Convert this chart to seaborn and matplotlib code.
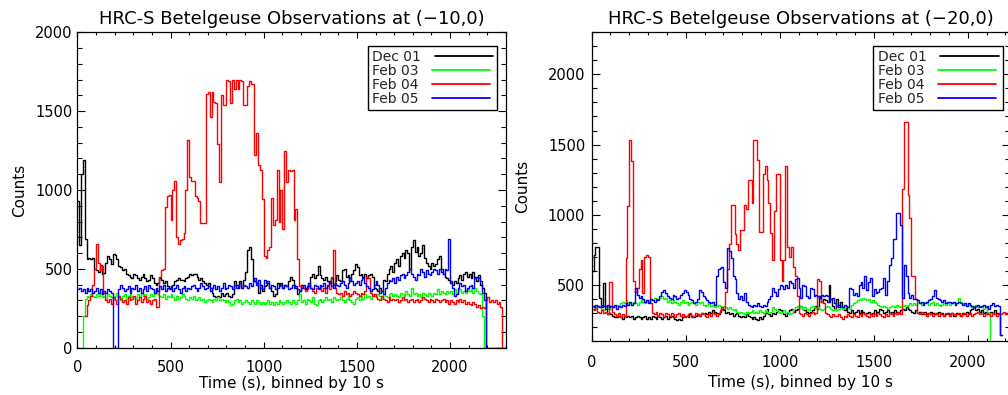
import matplotlib
matplotlib.use("Agg")
import matplotlib.pyplot as plt
from matplotlib.lines import Line2D
from matplotlib.ticker import MultipleLocator
import numpy as np
import pandas as pd
import seaborn as sns

sns.set_theme(style="ticks")
plt.rcParams["font.family"] = ["DejaVu Sans"]

BIN = 10  # seconds per bin

labels = ["Dec 01", "Feb 03", "Feb 04", "Feb 05"]
colors = ["#000000", "#00ff00", "#ff0000", "#0000ff"]

# ---- pointing (-10,0) ----
left_start = [0, 0, 40, 0]
left_dec01 = [
    930, 650, 1100, 1190, 690, 560, 570, 560, 570, 500,
    490, 480, 525, 470, 475, 540, 580, 560, 530, 595,
    590, 560, 520, 510, 490, 500, 470, 460, 450, 440,
    470, 460, 440, 430, 450, 470, 440, 420, 430, 460,
    440, 410, 400, 410, 440, 430, 410, 420, 390, 380,
    390, 400, 420, 430, 440, 430, 430, 420, 440, 450,
    470, 460, 470, 470, 450, 430, 440, 420, 410, 400,
    410, 380, 350, 330, 320, 330, 320, 350, 330, 340,
    350, 330, 320, 340, 420, 400, 380, 420, 380, 430,
    480, 620, 640, 560, 430, 420, 410, 350, 400, 360,
    390, 400, 410, 380, 360, 330, 340, 410, 400, 410,
    380, 400, 390, 420, 450, 430, 400, 380, 340, 360,
    400, 380, 380, 370, 390, 450, 470, 440, 460, 520,
    460, 440, 430, 450, 420, 410, 440, 400, 420, 460,
    430, 420, 490, 500, 450, 460, 420, 470, 490, 530,
    510, 460, 470, 450, 470, 440, 460, 470, 450, 380,
    370, 360, 380, 360, 430, 420, 470, 500, 520, 480,
    540, 560, 520, 580, 600, 570, 620, 600, 500, 640,
    680, 610, 640, 580, 600, 650, 570, 540, 520, 500,
    540, 520, 530, 560, 580, 500, 470, 450, 440, 430,
    410, 400, 420, 410, 440, 460, 430, 470, 480, 450,
    470, 440, 480, 450, 420, 460, 400, 380, 350, 0,
    0, 0, 0, 0, 0, 0, 0, 0, 0, 0,
]
left_feb03 = [
    0, 0, 0, 200, 310, 330, 320, 340, 330, 320,
    340, 330, 350, 320, 330, 310, 340, 330, 320, 310,
    330, 350, 320, 300, 330, 340, 310, 330, 340, 320,
    330, 310, 340, 320, 350, 330, 340, 310, 320, 340,
    330, 350, 360, 340, 330, 320, 340, 310, 330, 320,
    340, 320, 300, 330, 310, 320, 340, 330, 310, 300,
    320, 310, 330, 300, 310, 320, 300, 310, 290, 300,
    310, 300, 290, 310, 300, 320, 300, 310, 300, 290,
    300, 290, 270, 280, 300, 310, 290, 300, 280, 290,
    300, 290, 280, 300, 290, 280, 300, 290, 280, 290,
    280, 290, 300, 280, 290, 270, 290, 280, 300, 290,
    280, 290, 300, 290, 280, 300, 290, 280, 300, 340,
    290, 300, 280, 310, 300, 290, 320, 280, 270, 300,
    310, 290, 300, 320, 300, 310, 290, 320, 310, 300,
    310, 320, 300, 290, 310, 330, 300, 290, 280, 310,
    320, 300, 330, 310, 340, 320, 330, 310, 340, 330,
    320, 340, 330, 310, 340, 330, 320, 340, 350, 330,
    340, 330, 320, 350, 340, 330, 360, 340, 330, 380,
    340, 350, 330, 340, 320, 350, 340, 330, 350, 340,
    330, 350, 340, 370, 340, 360, 350, 340, 360, 350,
    360, 340, 370, 350, 360, 370, 350, 360, 350, 370,
    360, 370, 350, 380, 360, 350, 340, 200, 0, 0,
    0, 0, 0, 0, 0, 0, 0, 0, 0, 0,
]
left_feb04 = [
    200, 270, 300, 330, 400, 500,
    660, 540, 490, 520, 350, 300, 290, 310, 280, 320,
    300, 280, 330, 310, 290, 300, 280, 320, 300, 310,
    330, 280, 300, 320, 290, 310, 330, 290, 300, 280,
    300, 310, 260, 260, 450, 490, 500, 890, 960, 970,
    810, 1000, 1060, 700, 660, 680, 690, 730, 1000, 1320,
    1080, 1060, 1060, 960, 950, 930, 790, 790, 790, 1610,
    1620, 1460, 1620, 1560, 1550, 1290, 1050, 1600, 1540, 1540,
    1700, 1690, 1550, 1700, 1640, 1700, 1640, 1700, 1690, 1540,
    1540, 1660, 1690, 1670, 1670, 1220, 1360, 1160, 1130, 940,
    580, 570, 620, 640, 950, 780, 810, 1130, 800, 1000,
    750, 1250, 1050, 1130, 1120, 1130, 810, 880, 560, 390,
    390, 380, 360, 370, 400, 380, 360, 350, 380, 370,
    390, 360, 380, 350, 390, 370, 450, 620, 380, 350,
    340, 350, 330, 360, 340, 350, 330, 340, 360, 350,
    340, 330, 350, 340, 360, 450, 440, 350, 330, 340,
    320, 310, 300, 330, 310, 300, 290, 320, 300, 310,
    300, 310, 290, 300, 320, 300, 310, 290, 300, 310,
    290, 300, 310, 290, 300, 320, 310, 300, 290, 310,
    300, 290, 310, 300, 290, 300, 310, 290, 300, 280,
    300, 290, 280, 300, 290, 310, 290, 300, 280, 290,
    280, 270, 290, 280, 260, 270, 250, 260, 250, 300,
    320, 290, 300, 290, 300, 280, 290, 260, 0, 0,
]
left_feb05 = [
    370, 380, 360, 370, 350, 380, 360, 370, 350, 360,
    380, 350, 370, 340, 360, 350, 370, 360, 350, 0,
    0, 0, 370, 400, 380, 360, 370, 390, 350, 380,
    370, 400, 360, 380, 350, 370, 390, 360, 400, 380,
    370, 350, 380, 360, 390, 370, 400, 360, 380, 370,
    390, 360, 380, 400, 370, 350, 380, 390, 360, 380,
    370, 390, 400, 380, 360, 380, 410, 390, 370, 380,
    390, 360, 380, 400, 370, 390, 360, 380, 410, 370,
    380, 400, 390, 370, 400, 380, 390, 410, 380, 400,
    390, 380, 410, 390, 420, 440, 400, 430, 380, 370,
    430, 410, 420, 380, 400, 390, 370, 380, 390, 400,
    380, 400, 390, 370, 380, 400, 380, 390, 370, 360,
    380, 400, 370, 390, 410, 380, 370, 400, 390, 380,
    400, 390, 410, 380, 400, 420, 390, 380, 410, 400,
    390, 410, 420, 400, 380, 410, 440, 420, 400, 410,
    420, 400, 430, 440, 410, 390, 380, 360, 370, 400,
    420, 400, 350, 360, 340, 380, 410, 430, 420, 440,
    410, 450, 430, 460, 470, 440, 460, 480, 500, 470,
    450, 430, 470, 460, 500, 480, 450, 490, 470, 460,
    480, 500, 490, 470, 500, 480, 470, 500, 490, 690,
    420, 380, 330, 340, 380, 410, 390, 400, 360, 380,
    390, 400, 380, 440, 450, 440, 420, 350, 300, 0,
]

# ---- pointing (-20,0) ----
right_start = [0, 0, 0, 0]
right_dec01 = [
    600, 710, 770, 770, 410, 340, 510, 350, 290, 300,
    290, 280, 270, 270, 280, 270, 260, 280, 270, 280,
    270, 280, 260, 270, 280, 270, 260, 270, 280, 260,
    270, 260, 280, 270, 260, 280, 270, 260, 270, 280,
    260, 270, 280, 270, 260, 250, 260, 250, 270, 280,
    280, 270, 290, 280, 270, 280, 290, 280, 300, 290,
    300, 290, 310, 300, 320, 310, 300, 290, 310, 330,
    320, 300, 310, 290, 300, 280, 290, 300, 280, 270,
    280, 270, 290, 280, 270, 260, 270, 260, 250, 270,
    260, 280, 300, 330, 290, 280, 300, 290, 310, 330,
    320, 310, 290, 280, 300, 320, 330, 310, 320, 330,
    340, 350, 330, 320, 310, 300, 310, 320, 340, 350,
    330, 420, 380, 400, 390, 380, 500, 400, 350, 330,
    400, 360, 380, 330, 320, 340, 310, 300, 320, 300,
    310, 320, 300, 320, 310, 290, 300, 310, 290, 300,
    320, 300, 310, 330, 320, 300, 310, 320, 300, 310,
    300, 320, 310, 300, 320, 330, 320, 340, 330, 320,
    310, 300, 320, 300, 310, 290, 300, 310, 290, 300,
    310, 300, 290, 300, 310, 290, 300, 280, 290, 300,
    290, 300, 280, 290, 300, 290, 280, 300, 290, 310,
    300, 320, 330, 340, 320, 330, 310, 320, 300, 310,
    290, 300, 310, 300, 320, 300, 290, 140,
]
right_feb03 = [
    350, 340, 330, 350, 340, 330, 320, 340, 330, 340,
    330, 350, 340, 360, 350, 370, 380, 370, 390, 380,
    370, 360, 380, 370, 360, 380, 390, 380, 370, 390,
    380, 400, 390, 410, 390, 400, 410, 420, 400, 410,
    380, 390, 370, 390, 380, 370, 360, 380, 390, 370,
    380, 360, 370, 380, 370, 360, 380, 370, 380, 360,
    350, 360, 370, 350, 360, 340, 350, 360, 350, 340,
    350, 340, 330, 340, 330, 320, 330, 310, 300, 310,
    300, 290, 310, 300, 310, 320, 300, 310, 300, 320,
    310, 300, 320, 310, 300, 310, 340, 330, 320, 310,
    300, 310, 320, 300, 310, 290, 300, 330, 340, 350,
    340, 350, 330, 340, 330, 320, 340, 350, 340, 330,
    340, 330, 320, 330, 340, 350, 340, 330, 320, 330,
    320, 330, 340, 330, 340, 350, 340, 330, 360, 370,
    380, 390, 400, 390, 410, 400, 390, 400, 380, 390,
    380, 370, 360, 350, 340, 350, 340, 330, 340, 350,
    350, 340, 360, 350, 340, 350, 360, 350, 360, 370,
    360, 370, 360, 380, 370, 360, 370, 380, 370, 360,
    370, 380, 360, 370, 360, 350, 360, 370, 360, 370,
    360, 370, 380, 360, 370, 410, 380, 370, 360, 350,
    360, 350, 340, 350, 360, 340, 350, 340, 330, 350,
    310, 300, 0,
]
right_feb04 = [
    330, 320, 340, 310, 300, 320, 300, 310, 290, 520,
    520, 310, 290, 280, 300, 270, 290, 280, 690, 1060,
    1530, 1380, 530, 450, 480, 610, 680, 440, 700, 710,
    700, 370, 300, 290, 310, 280, 300, 290, 270, 300,
    290, 280, 300, 290, 270, 290, 300, 280, 290, 270,
    280, 290, 300, 270, 280, 300, 290, 280, 300, 290,
    280, 270, 290, 280, 300, 290, 280, 300, 320, 340,
    330, 450, 610, 790, 1070, 1070, 860, 790, 750, 890,
    890, 1070, 1040, 1250, 1250, 1080, 1530, 1530, 1390, 880,
    880, 1290, 1350, 1250, 1080, 870, 680, 1030, 1290, 1290,
    680, 530, 680, 1350, 770, 700, 770, 630, 560, 420,
    300, 290, 280, 300, 290, 280, 300, 310, 290, 300,
    540, 530, 380, 370, 300, 290, 280, 270, 290, 280,
    280, 290, 270, 260, 280, 270, 290, 280, 270, 290,
    280, 270, 290, 280, 300, 290, 280, 270, 290, 280,
    290, 280, 300, 290, 280, 270, 290, 280, 300, 290,
    280, 300, 290, 310, 290, 1180, 1660, 1660, 1140, 980,
    560, 560, 400, 300, 290, 310, 300, 290, 280, 300,
    290, 280, 300, 290, 280, 300, 290, 280, 300, 290,
    280, 300, 290, 280, 290, 300, 280, 290, 300, 280,
    290, 300, 280, 290, 300, 310, 290, 300, 280, 290,
    300, 290, 280, 300, 290, 280, 300, 290, 300, 310,
    290, 300, 290,
]
right_feb05 = [
    350, 340, 360, 350, 340, 360, 350, 330, 360, 340,
    350, 340, 360, 330, 350, 340, 360, 350, 370, 360,
    380, 360, 370, 480, 430, 410, 420, 400, 380, 390,
    370, 400, 390, 380, 400, 390, 420, 450, 460, 440,
    420, 410, 400, 430, 420, 400, 410, 430, 440, 460,
    450, 430, 400, 390, 370, 380, 400, 460, 450, 420,
    410, 390, 380, 370, 380, 360, 560, 610, 620, 630,
    520, 480, 760, 740, 690, 560, 540, 440, 400, 420,
    390, 440, 380, 360, 350, 340, 360, 350, 370, 350,
    340, 360, 350, 380, 400, 420, 480, 450, 420, 470,
    500, 490, 470, 500, 480, 530, 510, 480, 540, 550,
    480, 410, 500, 490, 420, 410, 480, 470, 420, 430,
    420, 410, 430, 420, 430, 420, 380, 400, 410, 370,
    350, 340, 350, 340, 360, 350, 340, 480, 470, 430,
    440, 420, 500, 520, 480, 560, 460, 520, 550, 420,
    470, 440, 450, 470, 480, 550, 430, 530, 640, 690,
    830, 830, 1010, 1010, 930, 410, 640, 560, 440, 410,
    430, 400, 400, 390, 370, 380, 360, 370, 380, 390,
    400, 420, 460, 410, 400, 390, 380, 390, 370, 380,
    380, 370, 380, 360, 370, 380, 370, 360, 370, 350,
    370, 360, 350, 340, 350, 360, 340, 350, 360, 340,
    350, 330, 360, 370, 350, 360, 350, 140,
]


def step_frame(values, start):
    # repeat last count so the final bin gets its full width
    counts = list(values) + [values[-1]]
    time = start + BIN * np.arange(len(counts))
    return pd.DataFrame({"time": time, "counts": counts})


def draw_panel(ax, series, starts, title, xmax, ylim, anchor, xpad, ypad):
    for vals, t0, c in zip(series, starts, colors):
        sns.lineplot(data=step_frame(vals, t0), x="time", y="counts", ax=ax,
                     color=c, linewidth=1.0, drawstyle="steps-post",
                     estimator=None, sort=False)

    ax.set_xlim(0, xmax)
    ax.set_ylim(*ylim)
    ax.xaxis.set_major_locator(MultipleLocator(500))
    ax.xaxis.set_minor_locator(MultipleLocator(100))
    ax.yaxis.set_major_locator(MultipleLocator(500))
    ax.yaxis.set_minor_locator(MultipleLocator(100))
    ax.tick_params(which="both", direction="in", top=True, right=True,
                   colors="black", width=0.8, labelsize=10.5)
    ax.tick_params(axis="x", which="major", length=4.3, pad=xpad)
    ax.tick_params(axis="x", which="minor", length=2.5)
    ax.tick_params(axis="y", which="major", length=6.1, pad=ypad)
    ax.tick_params(axis="y", which="minor", length=3.4)
    for sp in ax.spines.values():
        sp.set_color("black")
        sp.set_linewidth(0.9)

    ax.set_title(title, fontsize=13, color="black", pad=6)
    ax.set_xlabel("Time (s), binned by 10 s", fontsize=11, color="black")
    ax.set_ylabel("Counts", fontsize=11, color="black")

    handles = [Line2D([], [], color=c, linewidth=1.3) for c in colors]
    leg = ax.legend(handles, labels, loc="upper right", bbox_to_anchor=anchor,
                    borderaxespad=0, markerfirst=False, fancybox=False,
                    edgecolor="black", framealpha=1, fontsize=10,
                    handlelength=4.2, handletextpad=1.0, labelspacing=0.0,
                    borderpad=0.3)
    leg.get_frame().set_linewidth(1.0)
    # keep the entry texts flush left, as in the original plot
    for col in leg._legend_handle_box.get_children():
        col.align = "left"


fig = plt.figure(figsize=(10.08, 3.95), dpi=100)
ax1 = fig.add_axes([0.0767, 0.1197, 0.4253, 0.7985])
ax2 = fig.add_axes([0.587, 0.1367, 0.415, 0.7815])

draw_panel(ax1, [left_dec01, left_feb03, left_feb04, left_feb05], left_start,
           "HRC-S Betelgeuse Observations at (\u221210,0)", 2300, (0, 2000),
           (0.979, 0.9575), 8.5, 3.6)
draw_panel(ax2, [right_dec01, right_feb03, right_feb04, right_feb05], right_start,
           "HRC-S Betelgeuse Observations at (\u221220,0)", 2225, (100, 2300),
           (0.983, 0.9557), 10, 4.6)

ax1.xaxis.set_label_coords(0.5, -0.0897)
ax1.yaxis.set_label_coords(-0.118, 0.5)
ax2.xaxis.set_label_coords(0.5, -0.110)
ax2.yaxis.set_label_coords(-0.147, 0.5)

fig.savefig("out.png", dpi=100)
